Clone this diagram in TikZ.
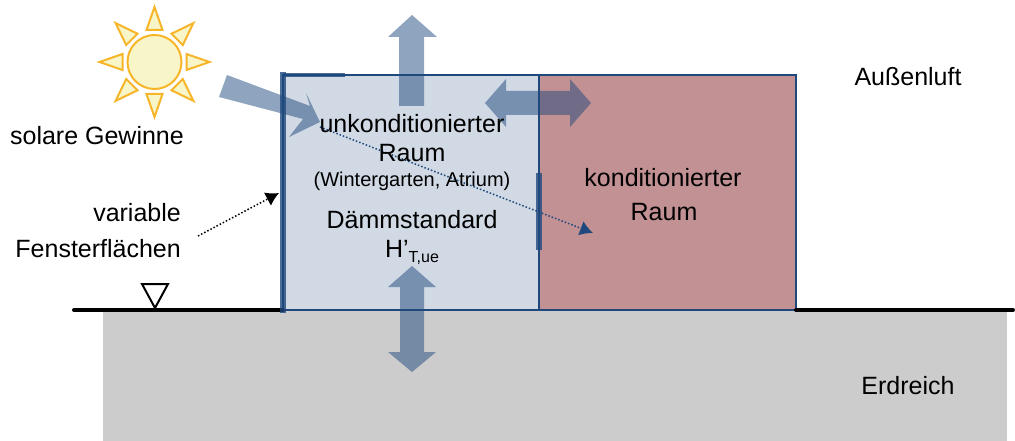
\documentclass[tikz,border=0pt]{standalone}
\usepackage{fontspec}
\setmainfont{Liberation Sans}
\usetikzlibrary{arrows.meta}
\definecolor{wallblue}{HTML}{1F497D}
\definecolor{roomcold}{HTML}{D0D9E4}
\definecolor{roomwarm}{HTML}{C29194}
\definecolor{soil}{HTML}{CCCCCC}
\definecolor{sunfill}{HTML}{F8F6C8}
\definecolor{sunline}{HTML}{F7B52A}
\begin{document}
\begin{tikzpicture}[x=1pt,y=-1pt]
	\tikzset{flow/.style={fill=wallblue,fill opacity=0.5}}
	\tikzset{wall/.style={draw=wallblue,line width=2pt}}
	\tikzset{window/.style={wallblue,opacity=0.8}}
	\tikzset{ground/.style={black,line width=4pt,line cap=round}}
	\tikzset{sunpart/.style={draw=sunline,fill=sunfill,line width=2pt}}
	\tikzset{label/.style={anchor=base,inner sep=0pt,font=\fontsize{25}{30}\selectfont}}
	\tikzset{small/.style={anchor=base,inner sep=0pt,font=\fontsize{20}{24}\selectfont}}
	\useasboundingbox (0,0) rectangle (1015,441);
	
	% Soil and the two rooms
	\fill [soil] (103,310) rectangle (1007,441);
	\draw [wall,fill=roomcold] (283,75) rectangle (539,310);
	\draw [wall,fill=roomwarm] (539,75) rectangle (796,310);
	
	% Ground line
	\draw [ground] (74,310) -- (283,310);
	\draw [ground] (796,310) -- (1013,310);
	\draw [black,line width=2pt,line join=miter] (142,284) -- (168,284) -- (155,308) -- cycle;
	
	% Window areas
	\fill [window] (280,72) rectangle (286,313);
	\fill [window] (283,73) rectangle (345,77);
	\fill [window] (536,173) rectangle (542,250);
	
	% Sun
	\def\sunx{154.5}
	\def\suny{62}
	\foreach \a in {0,45,...,315}
	{
		\draw [sunpart,shift={(\sunx,\suny)},rotate=\a] (32,-8) -- (55,0) -- (32,8) -- cycle;
	}
	\draw [sunpart] (\sunx,\suny) circle (27);
	
	% Heat flows
	\fill [flow] (227,75) -- (310,106) -- (306,93) -- (320,122) -- (289,137) -- (303,119) -- (219,97) -- cycle;
	\fill [flow] (399,106) -- (399,37) -- (388,37) -- (412,15) -- (437,37) -- (424,37) -- (424,106) -- cycle;
	\fill [flow] (485,103) -- (506,79) -- (506,91) -- (570,91) -- (570,79) -- (591,103) -- (570,127) -- (570,115) -- (506,115) -- (506,127) -- cycle;
	\fill [flow] (412,266) -- (436,287) -- (424,287) -- (424,352) -- (436,352) -- (412,372) -- (388,352) -- (400,352) -- (400,287) -- (388,287) -- cycle;
	
	% Dotted pointers
	\coordinate (solarstart) at (320,127);
	\coordinate (solarend) at (593,233);
	\coordinate (windowstart) at (198,236);
	\coordinate (windowend) at (279,193);
	\draw [wallblue,line width=1.5pt,dotted,-{Latex[length=13pt,width=15pt]}] (solarstart) -- (solarend);
	\draw [black,line width=1.5pt,dotted,-{Latex[length=13pt,width=15pt]}] (windowstart) -- (windowend);
	
	% Labels
	\node [label] (sol) at (97,145) {solare Gewinne};
	\node [label,anchor=base east] (var) at (181,222) {variable};
	\node [label,anchor=base east] (fen) at (181,257) {Fensterflächen};
	\node [label] (air) at (908,86) {Außenluft};
	\node [label] (soillabel) at (908,394) {Erdreich};
	\node [label] (ua) at (412,133) {unkonditionierter};
	\node [label] (ub) at (412,162) {Raum};
	\node [small] (uc) at (412,186) {(Wintergarten, Atrium)};
	\node [label] (ud) at (412,228) {Dämmstandard};
	\node [label] (ue) at (412,257) {H’\raisebox{-5pt}{\fontsize{16}{16}\selectfont T,ue}};
	\node [label] (ka) at (663,186) {konditionierter};
	\node [label] (kb) at (664,220) {Raum};
\end{tikzpicture}
\end{document}
